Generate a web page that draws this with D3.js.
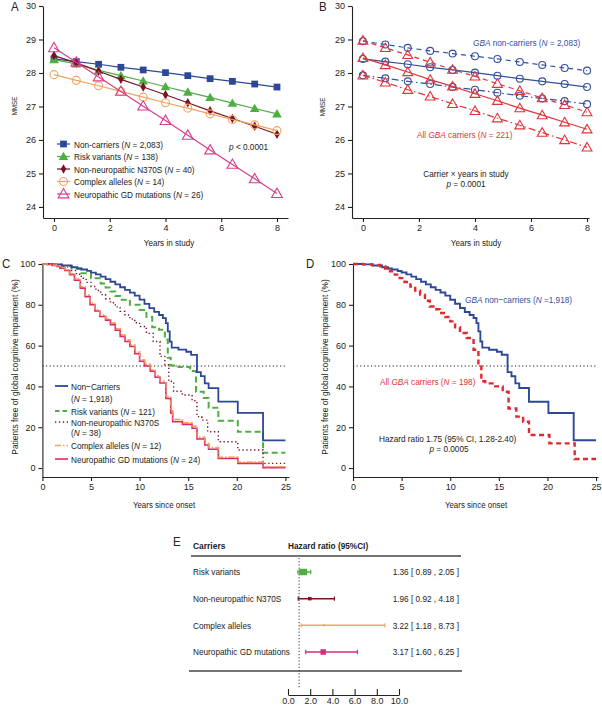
<!DOCTYPE html>
<html><head><meta charset="utf-8">
<script src="https://cdn.jsdelivr.net/npm/d3@7"></script>
<style>
body{margin:0;background:#fff}
svg{display:block}
text{font-family:"Liberation Sans",Arial,Helvetica,sans-serif;fill:#222}
</style>
</head><body>
<svg id="chart" width="602" height="708"></svg>
<script>
// ---------------- DATA ----------------
const yearsInStudy = [0,0.8,1.6,2.4,3.2,4.0,4.8,5.6,6.4,7.2,8.0];
// Panel A: MMSE estimates
const aNonCarriers   = [28.42,28.34,28.26,28.17,28.09,28.01,27.92,27.83,27.75,27.67,27.58];
const aRiskVariants  = [28.40,28.27,28.08,27.92,27.76,27.59,27.43,27.27,27.10,26.94,26.78];
const aN370S         = [28.52,28.30,28.05,27.81,27.58,27.35,27.11,26.87,26.64,26.41,26.17];
const aComplex       = [27.95,27.78,27.62,27.45,27.28,27.11,26.95,26.78,26.61,26.45,26.28];
const aNeuropathic   = [28.75,28.32,27.88,27.45,27.01,26.58,26.14,25.70,25.27,24.84,24.40];
const aLegend = ["Non-carriers","Risk variants","Non-neuropathic N370S","Complex alleles","Neuropathic GD mutations"];
const aLegendN = ["2,083","138","40","14","26"];
// Panel B: estimate with CI
const bNonMid   = [28.42,28.34,28.26,28.17,28.09,28.01,27.92,27.83,27.75,27.67,27.58];
const bNonUp    = [28.95,28.85,28.75,28.66,28.58,28.50,28.42,28.33,28.24,28.15,28.07];
const bNonLow   = [27.93,27.84,27.75,27.67,27.58,27.50,27.41,27.32,27.24,27.16,27.07];
const bCarMid   = [28.45,28.24,28.03,27.80,27.60,27.38,27.17,26.95,26.74,26.53,26.32];
const bCarUp    = [28.97,28.75,28.54,28.32,28.10,27.90,27.68,27.47,27.25,27.05,26.83];
const bCarLow   = [27.93,27.72,27.50,27.30,27.08,26.87,26.65,26.44,26.22,26.00,25.78];
const mmseTicks = [24,25,26,27,28,29,30];
const yearTicks = [0,2,4,6,8];
// Panels C/D: Kaplan-Meier curves [years since onset, % free]
const kmNonCarriers = [[0,100],[1,99.8],[2,99.3],[3,98.4],[3.6,97.8],[4,97.3],[4.6,96.6],[5,95.8],[5.5,94.9],[6,93.8],[6.5,92.6],[7,91.3],[7.5,90],[8,88.6],[8.5,87.3],[9,86],[9.5,84.5],[10,82.5],[10.5,80.5],[11,78.4],[11.5,76.5],[12,75],[12.4,73.5],[12.7,71],[12.9,67],[13.1,62],[13.3,59],[14,58],[14.8,57],[15.3,55.5],[15.9,47],[16.3,45],[16.7,41.5],[17.1,39.2],[18.1,32.5],[20.1,27],[22.7,13.6],[25,13.6]];
const kmRisk = [[0,100],[1,99.7],[2,99],[3,97.8],[4,95.5],[5,93],[6,90.5],[6.5,88.5],[7,86.5],[7.5,84.3],[8,82.5],[9,80],[10,77.5],[10.7,74],[11.3,69],[12,67.8],[12.6,63],[12.9,54],[13.2,50.3],[14,49.5],[15.2,47.5],[15.8,37.4],[16.6,34.3],[17.1,29.6],[18.1,23.2],[20.1,17.8],[22.7,7.5],[25,7.5]];
const kmN370S = [[0,100],[1,99.5],[2,98.6],[3,96.8],[3.5,95],[4,93],[4.5,91],[5,89],[5.5,87],[6,85],[6.5,83],[7,81],[7.5,79],[8,76.8],[8.5,75],[9,73],[9.5,71.2],[10,69.4],[10.7,66],[11.4,62],[12.1,54.7],[12.6,50.6],[13,42.5],[13.5,37.6],[14.4,35.8],[15.4,33],[15.9,25.2],[16.4,23.5],[17,17.8],[18.1,12.9],[20.1,8.8],[22.7,2.3],[25,2.3]];
const kmComplex = [[0,100],[0.5,99.8],[1,99.4],[1.5,98.9],[1.8,98.2],[2.3,97.1],[2.8,95.2],[3.3,92.6],[3.9,88.8],[4.4,84.7],[4.9,80.8],[5.4,77.6],[5.9,75],[6.5,73.1],[7,71],[7.5,68.2],[8,65.2],[8.5,62.7],[9,60.3],[9.5,56.8],[10,53],[10.5,50.8],[11.1,48.2],[11.6,45.3],[12.1,42.5],[12.7,35],[13.2,28],[13.4,23.8],[14.4,22.2],[15.4,20.5],[15.9,15],[16.7,12],[17.1,10],[18.1,5.2],[20.1,2.8],[22.7,0.6],[25,0.6]];
const kmNeuropathic = [[0,100],[0.5,99.8],[1,99.3],[1.5,98.8],[1.8,98],[2.3,96.8],[2.8,94.8],[3.3,92],[3.9,88.2],[4.4,84],[4.9,80],[5.4,77],[5.9,74.3],[6.5,72.5],[7,70.3],[7.5,67.5],[8,64.5],[8.5,62],[9,59.6],[9.5,56],[10,52.3],[10.5,50],[11.1,47.4],[11.6,44.5],[12.1,41.7],[12.7,34.1],[13.2,27],[13.4,22.7],[14.4,21.4],[15.4,19.5],[15.9,14.2],[16.7,11.3],[17.1,9.2],[18.1,4.7],[20.1,2.3],[22.7,0.2],[25,0.2]];
const kmAllCarriers = [[0,100],[1,99.8],[2,99.5],[2.8,98.9],[3.3,97.8],[3.8,96.4],[4.3,94.8],[4.8,93.1],[5.3,91.2],[5.9,89],[6.4,87],[6.9,85],[7.4,82],[7.9,79.2],[8.4,77.8],[8.9,76],[9.5,74],[10,71.9],[10.5,69],[11,66.2],[11.7,63.7],[12.4,58],[12.9,50.6],[13.2,42.5],[13.6,41.5],[14.5,40],[15.4,37.4],[16,29.2],[16.8,25.2],[17.5,22.7],[18.1,16.2],[20.2,12.1],[22.8,4.4],[25,4.4]];
const cLegend = ["Non\u2212Carriers","Risk variants","Non-neuropathic N370S","Complex alleles","Neuropathic GD mutations"];
const cLegendN = ["1,918","121","38","12","24"];
const pctTicks = [0,20,40,60,80,100];
const onsetTicks = [0,5,10,15,20,25];
// Panel E: hazard ratios
const eCarriers = ["Risk variants","Non-neuropathic N370S","Complex alleles","Neuropathic GD mutations"];
const eHR    = [1.36,1.96,3.22,3.17];
const eLower = [0.89,0.92,1.18,1.60];
const eUpper = [2.05,4.18,8.73,6.25];
const eTicks = [0,2,4,6,8,10];

// ---------------- HELPERS ----------------
const svg = d3.select("#chart");
const FONT = 9;
const SX = 0.84;   // horizontal text compression seen in the reference

function rich(g, x, y, parts, opt={}) {
  const sx = opt.sx ?? SX;
  const t = g.append("text")
    .attr("transform", `translate(${x},${y})` + (opt.rot ? ` rotate(${opt.rot})` : "") + ` scale(${sx},1)`)
    .style("font-size", (opt.size||9.8)+"px")
    .attr("text-anchor", opt.anchor||"start");
  if (opt.fill) t.style("fill", opt.fill);
  if (opt.weight) t.style("font-weight", opt.weight);
  parts.forEach(p => {
    const s = t.append("tspan").text(p[0]);
    if (p[1]) s.style("font-style","italic");
    if (opt.fill) s.style("fill", opt.fill);
  });
  return t;
}

function axes(g, x, y, xt, yt, xfmt) {
  const ax = g.append("g").attr("transform", `translate(0,${y.range()[0]})`)
    .call(d3.axisBottom(x).tickValues(xt).tickSize(4).tickSizeOuter(0).tickPadding(3).tickFormat(xfmt||d3.format("d")));
  const ay = g.append("g").attr("transform", `translate(${x.range()[0]},0)`)
    .call(d3.axisLeft(y).tickValues(yt).tickSize(4).tickSizeOuter(0).tickPadding(3).tickFormat(d3.format("d")));
  [ax, ay].forEach(a => {
    a.selectAll("text").style("font-size", FONT+"px").style("fill","#222").style("font-family",'"Liberation Sans",Arial,sans-serif');
    a.selectAll("line,path").attr("stroke","#222").attr("stroke-width",1.1);
  });
}

function panelLabel(x, y, s) {
  rich(svg, x, y, [[s]], {size:12.5, sx:0.92});
}

function marker(g, type, cx, cy, color, size) {
  const map = {square:d3.symbolSquare, triangle:d3.symbolTriangle, diamond:d3.symbolDiamond, circle:d3.symbolCircle,
               otriangle:d3.symbolTriangle, ocircle:d3.symbolCircle};
  const open = type.startsWith("o");
  const p = g.append("path").attr("d", d3.symbol().type(map[type]).size(size)())
    .attr("transform", `translate(${cx},${cy})` + (type.includes("triangle") ? " translate(0,0.8)" : ""));
  if (open) p.attr("fill","none").attr("stroke", color).attr("stroke-width",1.1);
  else p.attr("fill", color);
  return p;
}

// ---------------- PANEL A ----------------
{
  const g = svg.append("g");
  const x = d3.scaleLinear().domain([-0.395, 8.395]).range([43, 288]);
  const y = d3.scaleLinear().domain([23.67, 30]).range([218, 6]);
  axes(g, x, y, yearTicks, mmseTicks);
  const series = [
    {v:aNonCarriers, c:"#2c4896", m:"square", s:46},
    {v:aRiskVariants, c:"#4fae42", m:"triangle", s:40},
    {v:aN370S, c:"#7a1224", m:"diamond", s:26},
    {v:aComplex, c:"#f2a35e", m:"ocircle", s:50},
    {v:aNeuropathic, c:"#d83d8e", m:"otriangle", s:50}
  ];
  const line = d3.line().x((d,i)=>x(yearsInStudy[i])).y(d=>y(d));
  series.forEach(s => {
    g.append("path").attr("d", line(s.v)).attr("fill","none").attr("stroke", s.c).attr("stroke-width",1.2);
    s.v.forEach((d,i) => marker(g, s.m, x(yearsInStudy[i]), y(d), s.c, s.s));
  });
  const ly = [144,156.5,169,181.5,194];
  series.forEach((s,i) => {
    g.append("line").attr("x1",57).attr("x2",70).attr("y1",ly[i]).attr("y2",ly[i]).attr("stroke",s.c).attr("stroke-width",1.2);
    marker(g, s.m, 63.5, ly[i], s.c, s.s);
    rich(g, 74, ly[i]+3.5, [[aLegend[i]+" ("],["N",1],[" = "+aLegendN[i]+")"]]);
  });
  rich(g, 229, 149.5, [["p",1],[" < 0.0001"]]);
  rich(g, 169, 245.5, [["Years in study"]], {anchor:"middle", size:9, sx:0.9});
  rich(g, 16.5, 106, [["MMSE"]], {anchor:"middle", size:7.2, sx:0.87, rot:-90});
  panelLabel(11, 11, "A");
}

// ---------------- PANEL B ----------------
{
  const g = svg.append("g");
  const x = d3.scaleLinear().domain([-0.39, 8.07]).range([352, 589]);
  const y = d3.scaleLinear().domain([23.67, 30]).range([218, 6]);
  axes(g, x, y, yearTicks, mmseTicks);
  const blue = "#34509e", red = "#e0333a";
  const series = [
    {v:bNonUp, c:blue, d:"5,4", m:"ocircle"},
    {v:bNonMid, c:blue, d:null, m:"ocircle"},
    {v:bNonLow, c:blue, d:"7,3,1.5,3", m:"ocircle"},
    {v:bCarUp, c:red, d:"5,4", m:"otriangle"},
    {v:bCarMid, c:red, d:null, m:"otriangle"},
    {v:bCarLow, c:red, d:"7,3,1.5,3", m:"otriangle"}
  ];
  const line = d3.line().x((d,i)=>x(yearsInStudy[i])).y(d=>y(d));
  series.forEach(s => {
    const p = g.append("path").attr("d", line(s.v)).attr("fill","none").attr("stroke", s.c).attr("stroke-width",1.2);
    if (s.d) p.attr("stroke-dasharray", s.d);
    s.v.forEach((d,i) => marker(g, s.m, x(yearsInStudy[i]), y(d), s.c, s.m==="ocircle"?38:42));
  });
  rich(g, 473, 45.5, [["GBA",1],[" non-carriers ("],["N",1],[" = 2,083)"]], {fill:blue});
  rich(g, 417, 137.5, [["All "],["GBA",1],[" carriers ("],["N",1],[" = 221)"]], {fill:red});
  rich(g, 466, 176.5, [["Carrier \u00d7 years in study"]], {anchor:"middle"});
  rich(g, 466, 186.5, [["p",1],[" = 0.0001"]], {anchor:"middle"});
  rich(g, 476, 245.5, [["Years in study"]], {anchor:"middle", size:9, sx:0.9});
  rich(g, 325, 107, [["MMSE"]], {anchor:"middle", size:7.2, sx:0.87, rot:-90});
  panelLabel(319, 11, "B");
}

// ---------------- PANEL C ----------------
const kmLine = (x,y) => d3.line().x(d=>x(d[0])).y(d=>y(d[1])).curve(d3.curveStepAfter);
{
  const g = svg.append("g");
  const x = d3.scaleLinear().domain([0, 25.37]).range([42.4, 289]);
  const y = d3.scaleLinear().domain([-4.4, 100]).range([477, 264]);
  axes(g, x, y, onsetTicks, pctTicks);
  g.append("line").attr("x1",x(0)).attr("x2",x(25)).attr("y1",y(50)).attr("y2",y(50))
    .attr("stroke","#222").attr("stroke-width",1).attr("stroke-dasharray","1.2,2.4");
  const series = [
    {v:kmNonCarriers, c:"#2c4896", w:1.8, d:null},
    {v:kmRisk, c:"#4fae42", w:2, d:"6,3.5"},
    {v:kmN370S, c:"#7a1224", w:1.4, d:"1.3,2.6"},
    {v:kmComplex, c:"#f4a35c", w:1.6, d:"6,2,1.5,2"},
    {v:kmNeuropathic, c:"#e0276e", w:1.6, d:null}
  ];
  const L = kmLine(x,y);
  [1,2,0,3,4].forEach(i => {
    const s = series[i];
    const p = g.append("path").attr("d", L(s.v)).attr("fill","none").attr("stroke", s.c).attr("stroke-width", s.w);
    if (s.d) p.attr("stroke-dasharray", s.d);
  });
  g.append("path").attr("d", L(kmComplex)).attr("fill","none").attr("stroke","#f4a35c").attr("stroke-width",1.4).attr("stroke-dasharray","6,2,1.5,2").attr("stroke-opacity",0.8);
  const rows = [
    {i:0, ys:[386,398], lines:[[[cLegend[0]]],[["("],["N",1],[" = "+cLegendN[0]+")"]]]},
    {i:1, ys:[411], lines:[[[cLegend[1]+" ("],["N",1],[" = "+cLegendN[1]+")"]]]},
    {i:2, ys:[422,432.5], lines:[[[cLegend[2]]],[["("],["N",1],[" = "+cLegendN[2]+")"]]]},
    {i:3, ys:[445.5], lines:[[[cLegend[3]+" ("],["N",1],[" = "+cLegendN[3]+")"]]]},
    {i:4, ys:[459], lines:[[[cLegend[4]+" ("],["N",1],[" = "+cLegendN[4]+")"]]]}
  ];
  rows.forEach(r => {
    const s = series[r.i];
    const l = g.append("line").attr("x1",55).attr("x2",68).attr("y1",r.ys[0]).attr("y2",r.ys[0]).attr("stroke",s.c).attr("stroke-width",s.w);
    if (s.d) l.attr("stroke-dasharray", r.i===1 ? "4.5,3" : s.d);
    r.lines.forEach((ln,k) => rich(g, 71, r.ys[k]+3.5, ln));
  });
  rich(g, 164, 507.5, [["Years since onset"]], {anchor:"middle", size:9, sx:0.88});
  rich(g, 17.5, 367, [["Patients free of global cognitive impairment (%)"]], {anchor:"middle", size:9, sx:0.93, rot:-90});
  panelLabel(2, 268, "C");
}

// ---------------- PANEL D ----------------
{
  const g = svg.append("g");
  const x = d3.scaleLinear().domain([0, 25.2]).range([353, 598]);
  const y = d3.scaleLinear().domain([-4.4, 100]).range([477, 264]);
  axes(g, x, y, onsetTicks, pctTicks);
  g.append("line").attr("x1",x(0)).attr("x2",x(25)).attr("y1",y(50)).attr("y2",y(50))
    .attr("stroke","#222").attr("stroke-width",1).attr("stroke-dasharray","1.2,2.4");
  const L = kmLine(x,y);
  g.append("path").attr("d", L(kmNonCarriers)).attr("fill","none").attr("stroke","#2c4896").attr("stroke-width",1.9);
  g.append("path").attr("d", L(kmAllCarriers)).attr("fill","none").attr("stroke","#e0282e").attr("stroke-width",2.4).attr("stroke-dasharray","5,3.5");
  rich(g, 465, 302.5, [["GBA",1],[" non\u2212carriers ("],["N",1],[" =1,918)"]], {fill:"#34509e"});
  rich(g, 380, 384.5, [["All "],["GBA",1],[" carriers ("],["N",1],[" = 198)"]], {fill:"#e0333a"});
  rich(g, 379, 441.5, [["Hazard ratio 1.75 (95% CI, 1.28-2.40)"]]);
  rich(g, 449, 451.5, [["p",1],[" = 0.0005"]], {anchor:"middle"});
  rich(g, 476, 507.5, [["Years since onset"]], {anchor:"middle", size:9, sx:0.88});
  rich(g, 327.5, 367, [["Patients free of global cognitive impairment (%)"]], {anchor:"middle", size:9, sx:0.93, rot:-90});
  panelLabel(306, 268, "D");
}

// ---------------- PANEL E ----------------
{
  const g = svg.append("g");
  const x = d3.scaleLinear().domain([0, 10]).range([288, 399]);
  const rowY = d3.scalePoint().domain(eCarriers).range([572, 652]);
  panelLabel(173, 546, "E");
  rich(g, 193, 548.5, [["Carriers"]], {weight:"bold", size:9.6, sx:0.88});
  rich(g, 288, 548.5, [["Hazard ratio (95%CI)"]], {weight:"bold", size:9.6, sx:0.86});
  g.append("line").attr("x1",191).attr("x2",461).attr("y1",556).attr("y2",556).attr("stroke","#444").attr("stroke-width",1.6);
  g.append("line").attr("x1",189).attr("x2",462).attr("y1",671).attr("y2",671).attr("stroke","#444").attr("stroke-width",1.6);
  g.append("line").attr("x1",x(1)).attr("x2",x(1)).attr("y1",558).attr("y2",688)
    .attr("stroke","#333").attr("stroke-width",1).attr("stroke-dasharray","1.2,2");
  const colors = ["#4fae42","#7a1224","#f4a35c","#d42e80"];
  const sq = [[8,6.5],[3.5,3.5],[2,2],[5.5,5.5]];
  eCarriers.forEach((c,i) => {
    const yy = rowY(c);
    rich(g, 193, yy+3.4, [[c]]);
    g.append("line").attr("x1",x(eLower[i])).attr("x2",x(eUpper[i])).attr("y1",yy).attr("y2",yy).attr("stroke",colors[i]).attr("stroke-width",1.5);
    [eLower[i], eUpper[i]].forEach(v => g.append("line").attr("x1",x(v)).attr("x2",x(v)).attr("y1",yy-2.2).attr("y2",yy+2.2).attr("stroke",colors[i]).attr("stroke-width",1.2));
    g.append("rect").attr("x",x(eHR[i])-sq[i][0]/2).attr("y",yy-sq[i][1]/2).attr("width",sq[i][0]).attr("height",sq[i][1]).attr("fill",colors[i]);
    rich(g, 459, yy+3.4, [[`${eHR[i].toFixed(2)} [ ${eLower[i].toFixed(2)} , ${eUpper[i].toFixed(2)} ]`]], {anchor:"end"});
  });
  const ax = g.append("g").attr("transform","translate(0,695)")
    .call(d3.axisBottom(x).tickValues(eTicks).tickSize(-6).tickSizeOuter(0).tickPadding(4).tickFormat(d3.format(".1f")));
  ax.selectAll("line,path").attr("stroke","#222").attr("stroke-width",1.1);
  ax.selectAll("text").style("font-size","9px").style("fill","#222").attr("y",3).attr("dy","0.71em");
}
</script>
</body></html>
